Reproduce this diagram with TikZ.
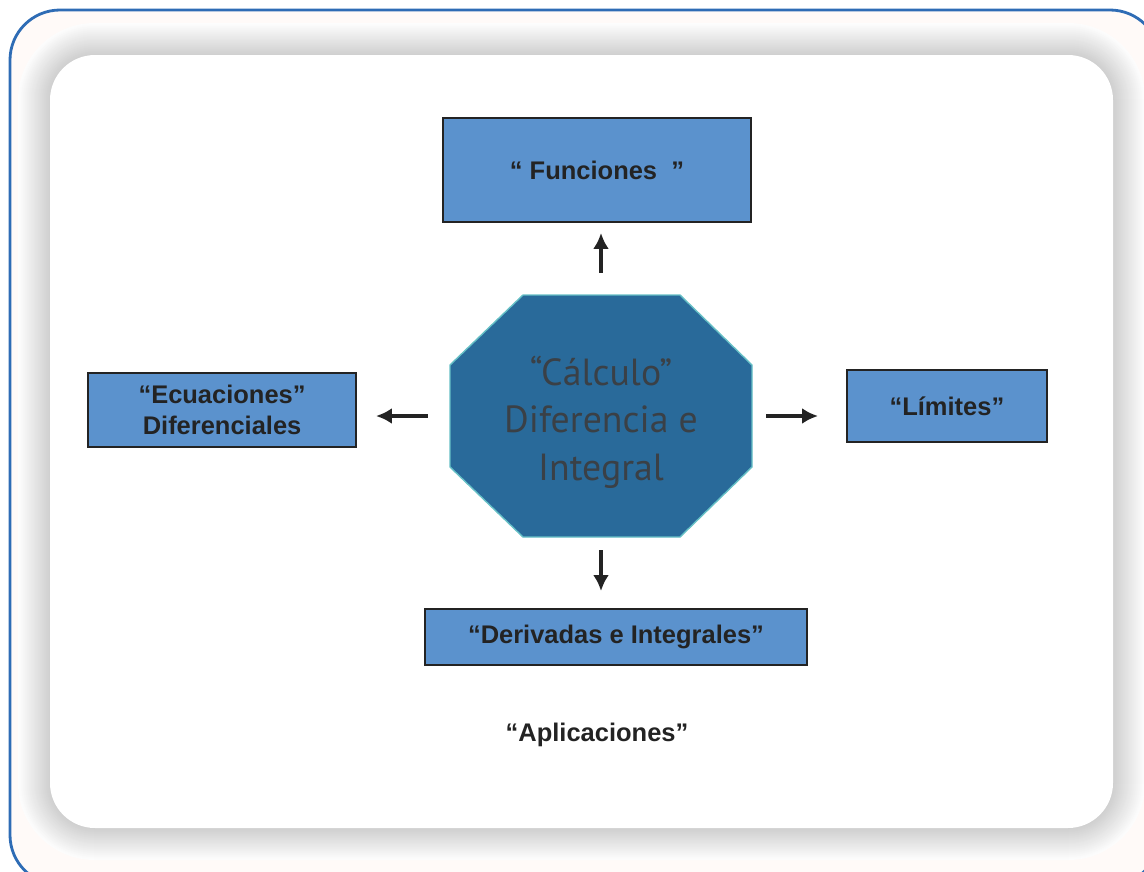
\documentclass[tikz,border=0pt]{standalone}
\usepackage{fontspec}
\setmainfont{Liberation Sans}
\newfontfamily\octafont{PT Sans}
\usetikzlibrary{arrows.meta,positioning}
\definecolor{boxblue}{HTML}{5B92CD}
\definecolor{octblue}{HTML}{296A9A}
\definecolor{octedge}{HTML}{66C0C6}
\definecolor{frameblue}{HTML}{2E6CB5}
\definecolor{boxtext}{HTML}{232323}
\definecolor{octtext}{HTML}{3A4046}
\definecolor{paper}{HTML}{FFFAF8}

\begin{document}
\begin{tikzpicture}[x=0.02cm,y=-0.02cm,on grid,
    topic/.style={draw=boxtext,line width=1.1pt,fill=boxblue,text=boxtext,
      font=\bfseries\fontsize{14.5}{18}\selectfont,align=center,inner sep=0pt},
    link/.style={-{Latex[length=9pt,width=9pt]},line width=2.3pt,draw=boxtext}]
   \useasboundingbox (0,0) rectangle (1144,872);
   \clip (0,0) rectangle (1144,872);
   % frame and soft shadow
   \fill[paper,draw=frameblue,line width=1.6pt,rounded corners=1cm] (10,10) rectangle (1160,885);
   \foreach \d [evaluate=\d as \pct using 19*(1-\d/33),
                evaluate=\d as \rr using (45+\d)*0.02] in {32,31,...,1}
     \fill[black!\pct!white,rounded corners=\rr cm] (50-\d,55-\d) rectangle (1113+\d,828+\d);
   \fill[white,rounded corners=0.9cm] (50,55) rectangle (1113,828);
   % octagon
   \fill[octblue,draw=octedge,line width=0.8pt] (523,295) -- (680,295) -- (752,365) -- (752,467)
     -- (680,537) -- (523,537) -- (450,467) -- (450,365) -- cycle;
   \node (calc) at (601,416) [minimum width=6.04cm,minimum height=4.84cm,inner sep=0pt,
     label={[align=center,text=octtext,font=\octafont\fontsize{21.5}{27}\selectfont,yshift=-0.12cm]center:{“Cálculo”\\Diferencia e\\Integral}}] {};
   \node[topic,minimum width=6.16cm,minimum height=2.08cm] (fun) [above left=4.92cm and 0.08cm of calc] {“ Funciones \ ”};
   \node[topic,minimum width=5.36cm,minimum height=1.48cm] (ecu) [above left=0.12cm and 7.58cm of calc] {“Ecuaciones”\\Diferenciales};
   \node[topic,minimum width=4cm,minimum height=1.44cm] (lim) [above right=0.2cm and 6.92cm of calc] {“Límites”};
   \node[topic,minimum width=7.64cm,minimum height=1.12cm] (der) [below right=4.42cm and 0.3cm of calc] {“Derivadas e Integrales”};
   \node[text=boxtext,font=\bfseries\fontsize{14.5}{18}\selectfont] (apl) [below left=1.96cm and 0.38cm of der] {“Aplicaciones”};
   \draw[link,shorten <=0.44cm,shorten >=0.2cm] (calc.north) -- (calc.north |- fun.south);
   \draw[link,shorten <=0.26cm,shorten >=0.34cm] (calc.south) -- (calc.south |- der.north);
   \draw[link,shorten <=0.44cm,shorten >=0.38cm] (calc.west) -- (calc.west -| ecu.east);
   \draw[link,shorten <=0.28cm,shorten >=0.56cm] (calc.east) -- (calc.east -| lim.west);
\end{tikzpicture}
\end{document}
